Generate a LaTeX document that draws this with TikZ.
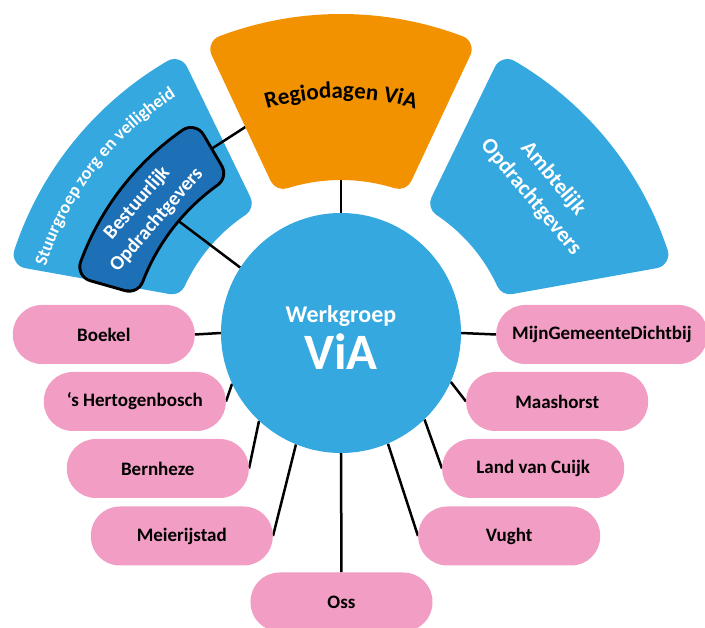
\documentclass[tikz,border=0pt]{standalone}
\usepackage{fontspec}
\setmainfont{Carlito}
\usetikzlibrary{decorations.text}
\definecolor{viablue}{RGB}{54,168,224}
\definecolor{viaorange}{RGB}{243,146,0}
\definecolor{viadark}{RGB}{30,112,182}
\definecolor{viapink}{RGB}{241,157,196}
\pgfdeclarelayer{sectors}
\pgfdeclarelayer{lines}
\pgfsetlayers{sectors,lines,main}
\tikzset{
  gemeente/.style={fill=viapink, rounded corners=29pt, minimum width=182pt, minimum height=59pt, inner xsep=16pt, font=\fontsize{19}{23}\selectfont\bfseries},
  link/.style={line width=2.5pt},
  % ring piece: outer angles #1,#2 at radius #3, inner angles #4,#5 at radius #6
  ringpiece/.style n args={6}{insert path={(#1:#3) arc[start angle=#1, end angle=#2, radius=#3] -- (#5:#6) arc[start angle=#5, end angle=#4, radius=#6] -- cycle}},
  % round corners: fill the inset piece and stroke it thick with round joins
  roundfill/.style={fill=#1, draw=#1, line width=28pt, line join=round},
}
\begin{document}
\begin{tikzpicture}[x=1pt, y=1pt, line join=round]
		\useasboundingbox (-341,-295) rectangle (364,333);
		% sectors round a centre a little below the circle
		\begin{scope}[shift={(0,-25)}]
		\begin{pgfonlayer}{sectors}
		\path[roundfill=viablue, ringpiece={120.3}{161.7}{330}{123.7}{155.3}{186}];
		\path[roundfill=viablue, ringpiece={18.3}{59.7}{330}{24.7}{56.3}{186}];
		\end{pgfonlayer}
		\path[roundfill=viaorange, ringpiece={69.3}{110.7}{330}{72.5}{107.5}{192}];
		\path[draw=black, line width=32pt, ringpiece={124.8}{159.7}{263}{125.5}{159}{227}];
		\path[roundfill=viadark, line width=26pt, ringpiece={124.8}{159.7}{263}{125.5}{159}{227}];
		\coordinate (regio) at (90:185);
		\coordinate (regiol) at (112.5:250);
		\coordinate (bestop) at (122:246);
		\coordinate (bestin) at (140:222);
		\path[decorate, decoration={text along path, text align=center, text={|\fontsize{18}{18}\selectfont\bfseries\color{white}|Stuurgroep zorg en veiligheid}}] (165:309) arc[start angle=165, end angle=120, radius=309];
		\path[decorate, decoration={text along path, text align=center, text={|\fontsize{23}{23}\selectfont\bfseries|Regiodagen ViA}}] (115:260) arc[start angle=115, end angle=65, radius=260];
		\end{scope}
		\node[rotate=49, align=center, text=white, font=\fontsize{20}{26}\selectfont\bfseries] (bestuur) at (-194,121.5) {Bestuurlijk\\Opdrachtgevers};
		\node[rotate=-50, align=center, text=white, font=\fontsize{22}{29}\selectfont\bfseries] (ambt) at (201,145) {Ambtelijk\\Opdrachtgevers};
		% werkgroep
		\node[circle, fill=viablue, minimum size=240pt, inner sep=0pt] (via) at (0,0) {};
		\node[anchor=base, text=white, font=\fontsize{24}{24}\selectfont\bfseries] (werk) at (0,10) {Werkgroep};
		\node[anchor=base, text=white, font=\fontsize{51}{51}\selectfont\bfseries] (viatxt) at (0,-37) {ViA};
		% gemeenten
		\node[gemeente, anchor=east] (boekel) at (-146,-1.5) {Boekel};
		\node[gemeente, anchor=east] (hbosch) at (-115,-68.5) {‘s Hertogenbosch};
		\node[gemeente, anchor=east] (bernheze) at (-92,-135.5) {Bernheze};
		\node[gemeente, anchor=east] (meierij) at (-68,-203) {Meierijstad};
		\node[gemeente] (oss) at (0.5,-269) {Oss};
		\node[gemeente, anchor=west] (mijn) at (155,-1.5) {MijnGemeenteDichtbij};
		\node[gemeente, anchor=west] (maashorst) at (125,-68.5) {Maashorst};
		\node[gemeente, anchor=west] (cuijk) at (101,-135.5) {Land van Cuijk};
		\node[gemeente, anchor=west] (vught) at (77,-203) {Vught};
		\begin{pgfonlayer}{lines}
		\draw[link] (via.180) -- (boekel.east);
		\draw[link] (via.205) -- (hbosch.east);
		\draw[link] (via.227) -- (bernheze.east);
		\draw[link] (via.248) -- (meierij.east);
		\draw[link] (via.270) -- (oss.north);
		\draw[link] (via.0) -- (mijn.west);
		\draw[link] (via.336) -- (maashorst.west);
		\draw[link] (via.314) -- (cuijk.west);
		\draw[link] (via.293) -- (vught.west);
		\draw[link] (via.90) -- (regio);
		\draw[link] (bestop) -- (regiol);
		\draw[link] (bestin) -- (via.147);
		\end{pgfonlayer}
\end{tikzpicture}
\end{document}
